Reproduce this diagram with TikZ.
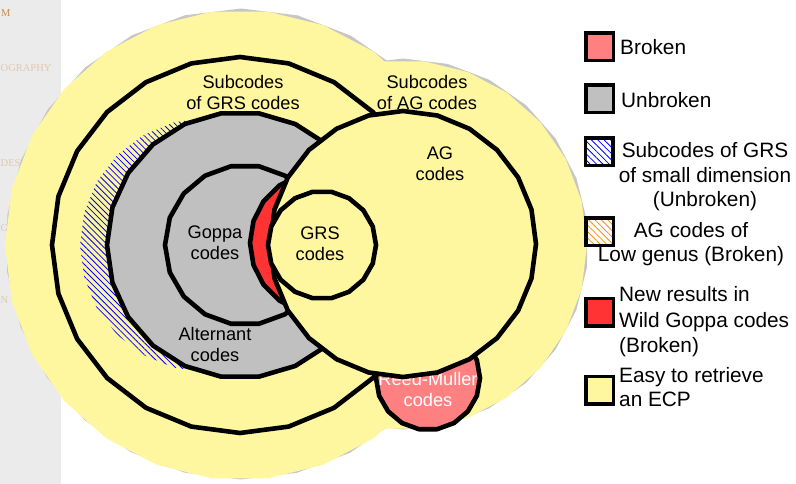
\documentclass[tikz,border=0pt]{standalone}
\usepackage{fontspec}
\setmainfont{Liberation Sans}
\newfontfamily\sidefont{Liberation Serif}
\usetikzlibrary{patterns.meta}

\definecolor{ecpyellow}{RGB}{255,246,160}
\definecolor{unbroken}{RGB}{192,192,192}
\definecolor{broken}{RGB}{255,128,128}
\definecolor{wildred}{RGB}{255,51,51}
\definecolor{sidebar}{RGB}{235,235,235}
\definecolor{shadowgray}{RGB}{198,198,198}
\definecolor{navtext}{RGB}{201,138,75}
\definecolor{navfaint}{RGB}{224,200,174}
\definecolor{hatchorange}{RGB}{255,140,0}

% closed polygon approximating a circle: centre x, centre y, radius, sides+1, rotation
\newcommand\ngon[5]{plot[domain=0:360,samples=#4,variable=\t]({#1+#3*cos(\t+#5)},{#2+#3*sin(\t+#5)}) -- cycle}

\begin{document}
\begin{tikzpicture}[x=1pt,y=-1pt,
  outline/.style={draw=black,line width=4.6pt,line join=round},
  lbl/.style={font=\fontsize{18.2}{21}\selectfont,align=center,inner sep=0pt},
  keytext/.style={font=\fontsize{20.8}{24.5}\selectfont,inner sep=0pt},
  keybox/.style={draw=black,line width=3.5pt,minimum size=27.5pt,inner sep=0pt},
  navlbl/.style={font=\sidefont\fontsize{10.5}{12}\selectfont,inner sep=0pt,anchor=west}]
\useasboundingbox (0,0) rectangle (796,484);

% navigation sidebar
\fill[sidebar] (0,0) rectangle (61,484);
\node[navlbl,text=navtext] (navm) at (1,13) {M};
\node[navlbl,text=navfaint] (navcrypto) at (0.5,68) {OGRAPHY};
\node[navlbl,text=navfaint] (navcodes) at (0.5,163) {DES};
\node[navlbl,text=navfaint] (navg) at (0.5,228) {G};
\node[navlbl,text=navfaint] (navn) at (0.5,300) {N};

% drop shadow of the outer region
\fill[shadowgray] \ngon{241}{244}{235.5}{27}{7};
\fill[shadowgray] \ngon{403}{244}{185.5}{27}{7};
% outer region: easy to retrieve an ECP
\fill[ecpyellow] \ngon{240}{245}{235}{27}{0};
\fill[ecpyellow] \ngon{402}{245}{185}{27}{0};

% subcodes of GRS codes
\draw[outline] \ngon{240}{245}{188}{25}{180};
% subcodes of GRS of small dimension
\fill[pattern={Lines[angle=-45,distance=4.3pt,line width=0.8pt]},pattern color=blue]
  \ngon{207}{245}{127}{25}{0};
% alternant codes
\draw[outline,fill=unbroken] \ngon{240}{245}{133}{23}{0};
% Goppa codes
\draw[outline,fill=unbroken] \ngon{245}{245}{80}{19}{0};
% wild Goppa codes
\draw[outline,fill=wildred] \ngon{321}{243}{71}{21}{0};
% Reed-Muller codes
\draw[outline,fill=broken] \ngon{428}{378}{52}{19}{0};
\node[lbl,text=white] (rm) at (428,389) {Reed-Muller\\codes};
% AG codes
\draw[outline,fill=ecpyellow] \ngon{403}{244}{133}{25}{0};
% GRS codes
\draw[outline,fill=ecpyellow] \ngon{322}{245}{54}{19}{0};

% region labels
\node[lbl] (sgrs) at (243,92) {Subcodes\\of GRS codes};
\node[lbl] (sag) at (427,92) {Subcodes\\of AG codes};
\node[lbl] (ag) at (440,164) {AG\\codes};
\node[lbl] (goppa) at (215,243) {Goppa\\codes};
\node[lbl] (grs) at (320,244) {GRS\\codes};
\node[lbl] (alt) at (215,344) {Alternant\\codes};

% key
\node[keybox,fill=broken] (kbroken) at (599.5,47) {};
\node[keytext,anchor=west] (tbroken) at (620,47) {Broken};
\node[keybox,fill=unbroken] (kunbroken) at (599.5,99) {};
\node[keytext,anchor=west] (tunbroken) at (621,100) {Unbroken};
\node[keybox,preaction={fill=white},pattern={Lines[angle=-45,distance=4.5pt,line width=0.8pt]},pattern color=blue] (ksmall) at (599,152) {};
\node[keytext,align=center] (tsmall) at (705,177) {Subcodes of GRS\\of small dimension\\(Unbroken)};
\node[keybox,preaction={fill=white},pattern={Lines[angle=-45,distance=4.5pt,line width=0.8pt]},pattern color=hatchorange] (kgenus) at (599.5,232) {};
\node[keytext,align=center] (tgenus) at (691,244) {AG codes of\\Low genus (Broken)};
\node[keybox,fill=wildred] (kwild) at (599.5,312) {};
\node[keytext,align=left,anchor=west,font=\fontsize{20.8}{25.5}\selectfont] (twild) at (619,322) {New results in\\Wild Goppa codes\\(Broken)};
\node[keybox,fill=ecpyellow] (kecp) at (599.5,390) {};
\node[keytext,align=left,anchor=west] (tecp) at (619,387) {Easy to retrieve\\an ECP};
\end{tikzpicture}
\end{document}
